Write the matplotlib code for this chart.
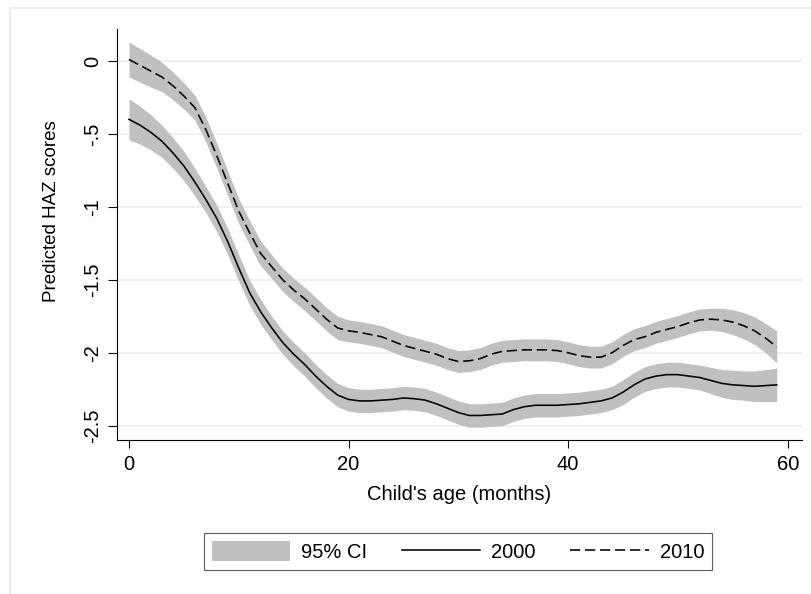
import matplotlib

matplotlib.use("Agg")
import matplotlib.pyplot as plt  # noqa: E402
from matplotlib.lines import Line2D  # noqa: E402
from matplotlib.patches import Patch  # noqa: E402

plt.rcParams["font.family"] = ["Liberation Sans", "DejaVu Sans"]

# child's age in months
AGE = list(range(60))

# predicted HAZ, 2000 survey, with 95% CI
HAZ_2000 = [-0.40, -0.44, -0.49, -0.55, -0.63, -0.72, -0.83, -0.95, -1.08, -1.24,
            -1.42, -1.59, -1.72, -1.83, -1.93, -2.01, -2.08, -2.16, -2.23, -2.29,
            -2.32, -2.33, -2.33, -2.325, -2.32, -2.31, -2.315, -2.325, -2.35, -2.38,
            -2.41, -2.43, -2.43, -2.425, -2.42, -2.39, -2.37, -2.36, -2.36, -2.36,
            -2.355, -2.35, -2.34, -2.33, -2.31, -2.27, -2.22, -2.18, -2.16, -2.15,
            -2.15, -2.16, -2.17, -2.19, -2.21, -2.22, -2.225, -2.23, -2.225, -2.22]
LO_2000 = [-0.54, -0.57, -0.61, -0.66, -0.735, -0.82, -0.925, -1.04, -1.17, -1.33,
           -1.51, -1.675, -1.805, -1.91, -2.01, -2.09, -2.16, -2.24, -2.31, -2.37,
           -2.40, -2.41, -2.41, -2.405, -2.40, -2.39, -2.395, -2.405, -2.43, -2.46,
           -2.49, -2.51, -2.51, -2.505, -2.50, -2.47, -2.45, -2.44, -2.44, -2.44,
           -2.435, -2.43, -2.42, -2.41, -2.39, -2.355, -2.305, -2.265, -2.245, -2.235,
           -2.235, -2.245, -2.255, -2.28, -2.305, -2.32, -2.325, -2.335, -2.335, -2.335]
HI_2000 = [-0.26, -0.31, -0.37, -0.44, -0.525, -0.62, -0.735, -0.86, -0.99, -1.15,
           -1.33, -1.505, -1.635, -1.75, -1.85, -1.93, -2.00, -2.08, -2.15, -2.21,
           -2.24, -2.25, -2.25, -2.245, -2.24, -2.23, -2.235, -2.245, -2.27, -2.30,
           -2.33, -2.35, -2.35, -2.345, -2.34, -2.31, -2.29, -2.28, -2.28, -2.28,
           -2.275, -2.27, -2.26, -2.25, -2.23, -2.185, -2.135, -2.095, -2.075, -2.065,
           -2.065, -2.075, -2.085, -2.10, -2.115, -2.12, -2.125, -2.125, -2.115, -2.105]

# predicted HAZ, 2010 survey, with 95% CI
HAZ_2010 = [0.01, -0.03, -0.07, -0.11, -0.17, -0.24, -0.32, -0.47, -0.65, -0.84,
            -1.03, -1.18, -1.32, -1.41, -1.50, -1.57, -1.63, -1.70, -1.77, -1.83,
            -1.85, -1.86, -1.875, -1.89, -1.92, -1.95, -1.97, -1.99, -2.01, -2.04,
            -2.06, -2.055, -2.04, -2.01, -1.99, -1.985, -1.98, -1.98, -1.98, -1.985,
            -2.00, -2.02, -2.03, -2.03, -2.00, -1.95, -1.91, -1.89, -1.86, -1.84,
            -1.82, -1.795, -1.775, -1.77, -1.775, -1.79, -1.815, -1.85, -1.90, -1.96]
LO_2010 = [-0.11, -0.145, -0.18, -0.21, -0.265, -0.33, -0.405, -0.555, -0.735, -0.925,
           -1.115, -1.265, -1.405, -1.49, -1.58, -1.65, -1.71, -1.78, -1.85, -1.91,
           -1.925, -1.935, -1.95, -1.965, -1.995, -2.025, -2.045, -2.065, -2.085, -2.115,
           -2.135, -2.13, -2.115, -2.085, -2.065, -2.06, -2.055, -2.055, -2.055, -2.06,
           -2.075, -2.095, -2.105, -2.105, -2.075, -2.025, -1.985, -1.965, -1.935, -1.915,
           -1.895, -1.87, -1.85, -1.845, -1.855, -1.875, -1.905, -1.945, -2.00, -2.07]
HI_2010 = [0.13, 0.085, 0.04, -0.01, -0.075, -0.15, -0.235, -0.385, -0.565, -0.755,
           -0.945, -1.095, -1.235, -1.33, -1.42, -1.49, -1.55, -1.62, -1.69, -1.75,
           -1.775, -1.785, -1.80, -1.815, -1.845, -1.875, -1.895, -1.915, -1.935, -1.965,
           -1.985, -1.98, -1.965, -1.935, -1.915, -1.91, -1.905, -1.905, -1.905, -1.91,
           -1.925, -1.945, -1.955, -1.955, -1.925, -1.875, -1.835, -1.815, -1.785, -1.765,
           -1.745, -1.72, -1.70, -1.695, -1.695, -1.705, -1.725, -1.755, -1.80, -1.85]

X_TICKS = [0, 20, 40, 60]
Y_TICKS = [-2.5, -2, -1.5, -1, -0.5, 0]
Y_TICK_LABELS = ["-2.5", "-2", "-1.5", "-1", "-.5", "0"]

CI_GRAY = "#c0c0c0"
GRID = "#e8eff2"
FRAME = "#e8eef0"
DASH = (0, (6.4, 3.0))

W, H = 812, 594
fig = plt.figure(figsize=(W / 100, H / 100), dpi=100)
fig.patch.set_facecolor("white")

left, right, top, bottom = 116.6, 802, 29, 440
ax = fig.add_axes([left / W, 1 - bottom / H, (right - left) / W, (bottom - top) / H])

ax.fill_between(AGE, LO_2000, HI_2000, color=CI_GRAY, lw=0, zorder=2)
ax.fill_between(AGE, LO_2010, HI_2010, color=CI_GRAY, lw=0, zorder=2)
ax.plot(AGE, HAZ_2000, color="black", lw=1.15, zorder=3)
ax.plot(AGE, HAZ_2010, color="black", lw=1.15, ls=DASH, zorder=3)

ax.set_xlim(-1.13, 61.3)
ax.set_ylim(-2.598, 0.219)
ax.set_xticks(X_TICKS)
ax.set_yticks(Y_TICKS)
ax.set_yticklabels(Y_TICK_LABELS)

ax.grid(axis="y", color=GRID, lw=1.3, zorder=0)
ax.set_axisbelow(True)
for s in ("top", "right"):
    ax.spines[s].set_visible(False)
for s in ("left", "bottom"):
    ax.spines[s].set_linewidth(0.8)
ax.tick_params(axis="y", length=6.5, width=0.8, pad=4, labelsize=14.5, labelrotation=90)
ax.tick_params(axis="x", length=5.5, width=0.8, pad=5, labelsize=14.5)
for lab in ax.get_yticklabels():
    lab.set_verticalalignment("center")

ax.set_xlabel("Child's age (months)", fontsize=14.5, labelpad=8)
ax.set_ylabel("Predicted HAZ scores", fontsize=13.5)
ax.yaxis.set_label_coords((60 - left) / (right - left), (bottom - 211) / (bottom - top))

handles = [
    Patch(facecolor=CI_GRAY, edgecolor="none", label="95% CI"),
    Line2D([], [], color="black", lw=1.15, label="2000"),
    Line2D([], [], color="black", lw=1.15, ls=DASH, label="2010"),
]
leg = fig.legend(handles=handles, ncol=3, loc="center",
                 bbox_to_anchor=(458 / W, 1 - 551.5 / H),
                 fontsize=14.5, frameon=True, fancybox=False,
                 edgecolor="#333333", handlelength=3.9, handleheight=1.1,
                 handletextpad=0.55, columnspacing=1.7, borderpad=0.4)
leg.get_frame().set_linewidth(0.8)

# faint outer graph-region frame (top and left edges only visible)
fig.add_artist(Line2D([10 / W, 1], [1 - 8 / H, 1 - 8 / H], transform=fig.transFigure,
                      color=FRAME, lw=1.5))
fig.add_artist(Line2D([10 / W, 10 / W], [0, 1 - 8 / H], transform=fig.transFigure,
                      color=FRAME, lw=1.5))

fig.savefig("out.png", dpi=100)
